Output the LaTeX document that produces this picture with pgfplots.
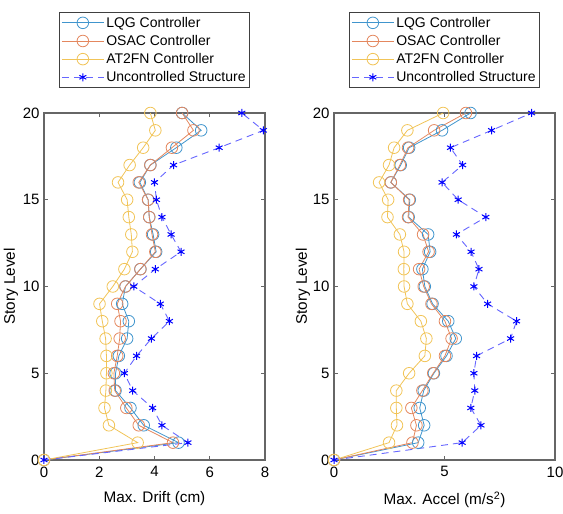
\documentclass[border=0pt]{standalone}
\usepackage{fontspec}
\setmainfont{Liberation Sans}
\usepackage{pgfplots}
\pgfplotsset{compat=1.18}
\definecolor{lqgcol}{rgb}{0,0.447,0.741}
\definecolor{osaccol}{rgb}{0.85,0.325,0.098}
\definecolor{atcol}{rgb}{0.929,0.694,0.125}
\definecolor{unccol}{rgb}{0.4,0.4,1}

\pgfplotsset{
  storyaxis/.style={
    scale only axis, width=221pt, height=347pt,
    anchor=south west,
    ymin=0, ymax=20, ytick={0,5,10,15,20},
    axis line style={black!60, line width=1.2pt},
    tick style={black!60, line width=0.8pt},
    major tick length=4pt,
    /pgf/number format/assume math mode=true,
    tick label style={font=\fontsize{15}{17}\selectfont},
    label style={font=\fontsize{15.3}{18}\selectfont},
    ylabel={Story Level},
    ylabel style={at={(axis description cs:0,0.5)}, anchor=center, yshift=31pt},
    xlabel style={at={(axis description cs:0.5,0)}, anchor=north, yshift=-28pt},
    xticklabel style={yshift=-3pt},
    yticklabel style={xshift=-1pt},
    legend cell align=left,
    legend style={at={(0.5,1)}, anchor=south, yshift=25pt,
      font=\fontsize{14}{16}\selectfont, draw=black!75, line width=0.8pt,
      inner xsep=2pt, inner ysep=2.5pt,
      row sep=2.5pt},
    legend image code/.code={%
      \draw[mark repeat=2, mark phase=2, #1] plot coordinates {(0pt,0pt) (21pt,0pt) (42pt,0pt)};},
  },
  lqg/.style={color=lqgcol!75, mark=o, mark size=5.8pt, line width=0.8pt, mark options={solid}},
  osac/.style={color=osaccol!70, mark=o, mark size=5.8pt, line width=0.8pt, mark options={solid}},
  at2/.style={color=atcol!75, mark=o, mark size=5.8pt, line width=0.8pt, mark options={solid}},
  unc/.style={color=unccol, dash pattern=on 7pt off 5pt, line width=0.9pt, mark=asterisk, mark size=4pt,
    mark options={solid, blue, line width=1pt}},
}

\begin{document}
\begin{tikzpicture}
% left: drift
\begin{axis}[storyaxis, at={(44pt,54pt)},
  xmin=0, xmax=8, xtick={0,2,4,6,8},
  ylabel style={yshift=2pt},
  xlabel={Max. Drift (cm)}]
\addplot[lqg] coordinates {(0,0)(4.87,1)(3.61,2)(3.13,3)(2.59,4)(2.59,5)(2.71,6)(3.01,7)(3.07,8)(2.83,9)(2.95,10)(3.49,11)(4.06,12)(3.95,13)(3.81,14)(3.77,15)(3.47,16)(3.85,17)(4.79,18)(5.69,19)(5.0,20)};
\addlegendentry{LQG Controller}
\addplot[osac] coordinates {(0,0)(4.67,1)(3.43,2)(2.98,3)(2.56,4)(2.53,5)(2.65,6)(2.74,7)(2.77,8)(2.65,9)(2.95,10)(3.49,11)(4.03,12)(3.91,13)(3.81,14)(3.77,15)(3.43,16)(3.85,17)(4.63,18)(5.41,19)(5.0,20)};
\addlegendentry{OSAC Controller}
\addplot[at2] coordinates {(0,0)(3.39,1)(2.35,2)(2.19,3)(2.24,4)(2.26,5)(2.26,6)(2.23,7)(2.11,8)(2.01,9)(2.49,10)(2.91,11)(3.2,12)(3.16,13)(3.07,14)(3.01,15)(2.68,16)(3.10,17)(3.59,18)(4.03,19)(3.85,20)};
\addlegendentry{AT2FN Controller}
\addplot[unc] coordinates {(0,0)(5.21,1)(4.27,2)(3.93,3)(3.21,4)(2.91,5)(3.35,6)(3.89,7)(4.54,8)(4.21,9)(3.25,10)(4.03,11)(4.96,12)(4.60,13)(4.27,14)(4.07,15)(4.0,16)(4.69,17)(6.34,18)(7.94,19)(7.16,20)};
\addlegendentry{Uncontrolled Structure}
\end{axis}
% right: acceleration
\begin{axis}[storyaxis, at={(334pt,54pt)},
  xmin=0, xmax=10, xtick={0,5,10},
  xlabel={Max. Accel (m/s\textsuperscript{2})}]
\addplot[lqg] coordinates {(0,0)(3.81,1)(4.08,2)(3.88,3)(4.06,4)(4.52,5)(5.09,6)(5.51,7)(5.17,8)(4.46,9)(4.11,10)(4.0,11)(4.35,12)(4.26,13)(3.38,14)(3.43,15)(2.57,16)(3.02,17)(3.40,18)(4.89,19)(6.18,20)};
\addlegendentry{LQG Controller}
\addplot[osac] coordinates {(0,0)(3.55,1)(3.73,2)(3.50,3)(4.0,4)(4.49,5)(5.02,6)(5.32,7)(5.02,8)(4.41,9)(4.06,10)(3.85,11)(4.28,12)(4.03,13)(3.35,14)(3.40,15)(2.57,16)(2.98,17)(3.35,18)(4.53,19)(5.97,20)};
\addlegendentry{OSAC Controller}
\addplot[at2] coordinates {(0,0)(2.49,1)(2.85,2)(2.82,3)(2.82,4)(3.40,5)(4.11,6)(4.18,7)(3.93,8)(3.32,9)(3.17,10)(3.16,11)(3.17,12)(2.98,13)(2.42,14)(2.45,15)(2.04,16)(2.49,17)(2.72,18)(3.32,19)(4.94,20)};
\addlegendentry{AT2FN Controller}
\addplot[unc] coordinates {(0,0)(5.80,1)(6.65,2)(6.19,3)(6.37,4)(6.33,5)(6.45,6)(7.99,7)(8.26,8)(6.95,9)(6.33,10)(6.56,11)(6.2,12)(5.54,13)(6.87,14)(5.62,15)(4.89,16)(5.82,17)(5.27,18)(7.13,19)(8.94,20)};
\addlegendentry{Uncontrolled Structure}
\end{axis}
\pgfresetboundingbox
\path (0pt,0pt) rectangle (563pt,514pt);
\end{tikzpicture}
\end{document}
